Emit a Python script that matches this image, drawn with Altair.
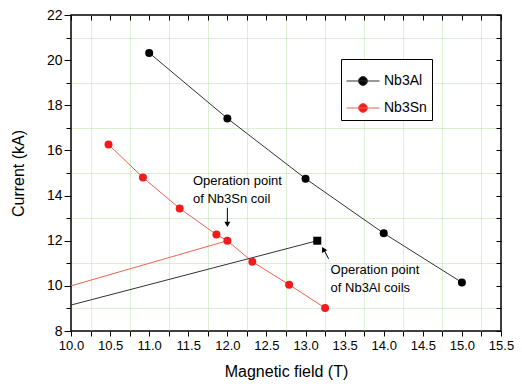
import altair as alt
import pandas as pd

# ---- data ----
al_x = [11.0, 12.0, 13.0, 14.0, 15.0]
al_y = [20.32, 17.42, 14.75, 12.33, 10.15]
sn_x = [10.48, 10.92, 11.39, 11.86, 12.0, 12.32, 12.79, 13.25]
sn_y = [16.26, 14.80, 13.43, 12.27, 12.0, 11.07, 10.05, 9.02]

# load lines towards the operating points
load_sn_x = [10.0, 12.0]
load_sn_y = [10.0, 12.0]
load_al_x = [10.0, 13.15]
load_al_y = [9.15, 12.0]
op_al_x = [13.15]
op_al_y = [12.0]

x_ticks = [10.0 + 0.25 * i for i in range(23)]
y_ticks = list(range(8, 23))

ann_x = [11.56, 11.56, 13.32, 13.32]
ann_y = [14.45, 13.67, 10.52, 9.74]
ann_text = ["Operation point", "of Nb3Sn coil", "Operation point", "of Nb3Al coils"]

arrow_x = [12.0, 13.295]
arrow_y = [13.46, 11.2]
arrow_x2 = [12.0, 13.235]
arrow_y2 = [12.8, 11.6]
head_x = [12.0, 13.228]
head_y = [12.72, 11.62]
head_shape = ["triangle-down", "triangle-up"]
head_angle = [0, 333]

series = ["Nb3Al", "Nb3Sn"]
marker_colors = ["#000000", "#ee1c1c"]
line_colors = ["#333333", "#f26050"]

# ---- tables ----
rows = []
for i, (x, y) in enumerate(zip(al_x, al_y)):
    rows.append(dict(x=x, y=y, series="Nb3Al", grp="al_curve", o=i))
for i, (x, y) in enumerate(zip(sn_x, sn_y)):
    rows.append(dict(x=x, y=y, series="Nb3Sn", grp="sn_curve", o=i))
for i, (x, y) in enumerate(zip(load_sn_x, load_sn_y)):
    rows.append(dict(x=x, y=y, series="Nb3Sn", grp="sn_load", o=i))
for i, (x, y) in enumerate(zip(load_al_x, load_al_y)):
    rows.append(dict(x=x, y=y, series="Nb3Al", grp="al_load", o=i))
lines_df = pd.DataFrame(rows)

pts_df = pd.DataFrame(
    [dict(x=x, y=y, series="Nb3Al") for x, y in zip(al_x, al_y)]
    + [dict(x=x, y=y, series="Nb3Sn") for x, y in zip(sn_x, sn_y)]
)
sq_df = pd.DataFrame(dict(x=op_al_x, y=op_al_y))
ann_df = pd.DataFrame(dict(x=ann_x, y=ann_y, t=ann_text))
arr_df = pd.DataFrame(dict(x=arrow_x, y=arrow_y, x2=arrow_x2, y2=arrow_y2))
head_df = pd.DataFrame(dict(x=head_x, y=head_y, s=head_shape, a=head_angle))

FONT = "Liberation Sans"
xs = alt.Scale(domain=[10, 15.5], nice=False, zero=False)
ys = alt.Scale(domain=[8, 22], nice=False, zero=False)
GRID = "#b9dea6"

x_axis = alt.Axis(
    values=x_ticks,
    labelExpr="(datum.value*2) % 1 == 0 ? format(datum.value, '.1f') : ''",
    labelOverlap=False,
    labelBound=False,
    labelFlush=False,
    title="Magnetic field (T)",
    domain=False,
    tickColor="black",
    tickSize=5,
    labelFontSize=13,
    labelPadding=3,
    labelColor="black",
    labelFont=FONT,
    titleFont=FONT,
    titleFontSize=16,
    titleFontWeight="normal",
    titleColor="black",
    titlePadding=11,
    grid=True,
    gridColor=GRID,
    gridDash=[1, 1],
    gridOpacity={"condition": {"test": "(datum.value*4) % 2 == 1", "value": 1}, "value": 0},
)
y_axis = alt.Axis(
    values=y_ticks,
    labelExpr="datum.value % 2 == 0 ? format(datum.value, 'd') : ''",
    labelOverlap=False,
    labelBound=False,
    labelFlush=False,
    title="Current (kA)",
    domain=False,
    tickColor="black",
    tickSize={"condition": {"test": "datum.value % 2 == 0", "value": 7}, "value": 5},
    labelFontSize=14,
    labelPadding=2,
    labelColor="black",
    labelFont=FONT,
    titleFont=FONT,
    titleFontSize=16,
    titleFontWeight="normal",
    titleColor="black",
    titlePadding=20,
    grid=True,
    gridColor=GRID,
    gridDash=[1, 1],
    gridOpacity={"condition": {"test": "datum.value % 2 == 1", "value": 1}, "value": 0},
)
x_top = alt.Axis(orient="top", values=x_ticks, labels=False, title=None, domain=False,
                 tickColor="black", tickSize=5, offset=-5, grid=False)
y_right = alt.Axis(orient="right", values=y_ticks, labels=False, title=None, domain=False,
                   tickColor="black", tickSize=5, offset=-5, grid=False)

symbol_path = "M-1,0H1M-0.27,0A0.27,0.27,0,1,0,0.27,0A0.27,0.27,0,1,0,-0.27,0Z"
legend_cfg = dict(
    title=None,
    orient="none",
    legendX=270,
    legendY=44,
    symbolType=symbol_path,
    symbolSize=1089,
    symbolStrokeWidth=1,
    labelFont=FONT,
    labelFontSize=14,
    labelColor="black",
    labelOffset=4,
    rowPadding=3,
    padding=5,
    strokeColor="black",
    fillColor="white",
)

lines = alt.Chart(lines_df).mark_line(strokeWidth=1).encode(
    x=alt.X("x:Q", scale=xs, axis=x_axis),
    y=alt.Y("y:Q", scale=ys, axis=y_axis),
    stroke=alt.Stroke("series:N", scale=alt.Scale(domain=series, range=line_colors),
                      legend=alt.Legend(**legend_cfg)),
    detail="grp:N",
    order="o:Q",
)

points = alt.Chart(pts_df).mark_point(filled=True, size=64, opacity=1).encode(
    x=alt.X("x:Q", scale=xs, axis=x_top),
    y=alt.Y("y:Q", scale=ys, axis=y_right),
    fill=alt.Fill("series:N", scale=alt.Scale(domain=series, range=marker_colors),
                  legend=alt.Legend(**legend_cfg)),
)

square = alt.Chart(sq_df).mark_point(shape="square", filled=True, size=64, color="black", opacity=1).encode(
    x=alt.X("x:Q", scale=xs, axis=None),
    y=alt.Y("y:Q", scale=ys, axis=None),
)

arrows = alt.Chart(arr_df).mark_rule(color="black", strokeWidth=1).encode(
    x=alt.X("x:Q", scale=xs, axis=None),
    y=alt.Y("y:Q", scale=ys, axis=None),
    x2="x2:Q",
    y2="y2:Q",
)
heads = alt.Chart(head_df).mark_point(filled=True, size=36, color="black", opacity=1).encode(
    x=alt.X("x:Q", scale=xs, axis=None),
    y=alt.Y("y:Q", scale=ys, axis=None),
    shape=alt.Shape("s:N", scale=None, legend=None),
    angle=alt.Angle("a:Q", scale=None),
)

texts = alt.Chart(ann_df).mark_text(align="left", baseline="alphabetic", font=FONT,
                                    fontSize=13, color="black").encode(
    x=alt.X("x:Q", scale=xs, axis=None),
    y=alt.Y("y:Q", scale=ys, axis=None),
    text="t:N",
)

chart = (
    alt.layer(lines, points, square, arrows, heads, texts)
    .resolve_axis(x="independent", y="independent")
    .properties(
        width=430,
        height=316,
        autosize=alt.AutoSizeParams(type="none"),
        padding={"left": 63, "top": 7, "right": 13, "bottom": 53},
        background="white",
    )
    .configure_view(stroke="black", strokeWidth=1.5)
)

chart.save("out.html", embed_options={"renderer": "svg", "actions": False})
